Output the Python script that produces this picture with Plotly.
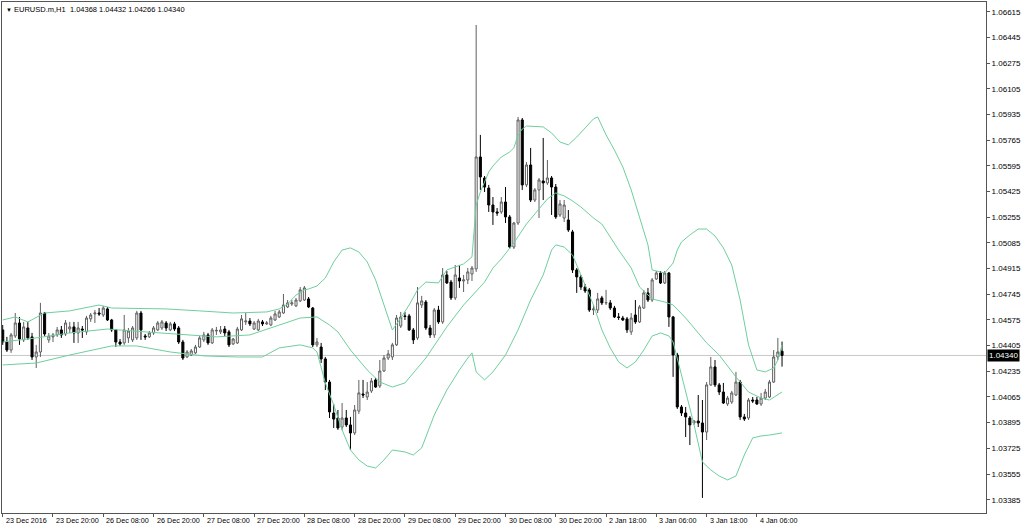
import plotly.graph_objects as go

# ---------------- data ----------------
bar_index = list(range(187))

opens = [1.04509,1.04429,1.04376,1.04469,1.04555,1.04443,1.04522,1.04463,1.04330,1.04363,
1.04621,1.04443,1.04463,1.04476,1.04509,1.04482,1.04515,1.04529,1.04489,1.04515,
1.04496,1.04582,1.04615,1.04621,1.04608,1.04648,1.04575,1.04509,1.04429,1.04423,
1.04456,1.04443,1.04456,1.04621,1.04469,1.04463,1.04489,1.04509,1.04522,1.04555,
1.04509,1.04549,1.04522,1.04429,1.04330,1.04343,1.04357,1.04396,1.04443,1.04476,
1.04423,1.04502,1.04496,1.04515,1.04496,1.04416,1.04423,1.04509,1.04562,1.04568,
1.04515,1.04509,1.04562,1.04549,1.04542,1.04575,1.04595,1.04621,1.04661,1.04681,
1.04668,1.04701,1.04707,1.04714,1.04654,1.04410,1.04396,1.04317,1.04164,1.03959,
1.03926,1.03866,1.03926,1.03880,1.03827,1.03972,1.04085,1.04065,1.04105,1.04178,
1.04138,1.04237,1.04323,1.04330,1.04410,1.04535,1.04602,1.04602,1.04509,1.04456,
1.04674,1.04694,1.04522,1.04476,1.04641,1.04562,1.04873,1.04826,1.04721,1.04853,
1.04833,1.04840,1.04879,1.04913,1.05654,1.05515,1.05448,1.05336,1.05290,1.05290,
1.05356,1.05257,1.05058,1.05217,1.05899,1.05469,1.05601,1.05369,1.05436,1.05495,
1.05482,1.05515,1.05455,1.05270,1.05250,1.05237,1.05158,1.04906,1.04860,1.04793,
1.04774,1.04641,1.04641,1.04721,1.04688,1.04688,1.04654,1.04595,1.04588,1.04582,
1.04496,1.04608,1.04562,1.04654,1.04754,1.04707,1.04846,1.04886,1.04820,1.04886,
1.04595,1.04343,1.03999,1.03959,1.03926,1.03893,1.03906,1.03893,1.03833,1.04145,
1.04264,1.04145,1.04098,1.04019,1.04032,1.04078,1.04164,1.03933,1.03926,1.04045,
1.04045,1.04019,1.04058,1.04065,1.04164,1.04330,1.04368]

highs = [1.04542,1.04463,1.04489,1.04621,1.04595,1.04562,1.04562,1.04489,1.04410,1.04688,
1.04628,1.04489,1.04489,1.04529,1.04535,1.04575,1.04562,1.04562,1.04562,1.04535,
1.04602,1.04621,1.04641,1.04654,1.04668,1.04661,1.04582,1.04515,1.04449,1.04608,
1.04522,1.04535,1.04635,1.04635,1.04482,1.04502,1.04535,1.04568,1.04575,1.04568,
1.04562,1.04562,1.04535,1.04443,1.04376,1.04383,1.04410,1.04469,1.04496,1.04489,
1.04522,1.04529,1.04535,1.04535,1.04509,1.04456,1.04529,1.04608,1.04621,1.04588,
1.04568,1.04582,1.04575,1.04568,1.04602,1.04635,1.04641,1.04747,1.04707,1.04707,
1.04721,1.04793,1.04800,1.04727,1.04661,1.04456,1.04423,1.04330,1.04178,1.04019,
1.03979,1.04025,1.03979,1.03933,1.04012,1.04178,1.04178,1.04164,1.04191,1.04191,
1.04310,1.04343,1.04376,1.04423,1.04608,1.04628,1.04628,1.04615,1.04522,1.04793,
1.04734,1.04707,1.04542,1.04654,1.04668,1.04919,1.04899,1.04840,1.04939,1.04939,
1.04873,1.04919,1.04932,1.06528,1.05800,1.05528,1.05469,1.05389,1.05316,1.05389,
1.05455,1.05270,1.05224,1.05919,1.05912,1.05621,1.05714,1.05448,1.05515,1.05780,
1.05634,1.05528,1.05475,1.05369,1.05369,1.05303,1.05171,1.04919,1.04873,1.04813,
1.04787,1.04674,1.04754,1.04734,1.04774,1.04707,1.04668,1.04621,1.04602,1.04595,
1.04621,1.04707,1.04674,1.04774,1.04787,1.04853,1.04899,1.04899,1.04899,1.04893,
1.04602,1.04357,1.04012,1.03999,1.03939,1.03913,1.04078,1.04045,1.04164,1.04330,
1.04310,1.04158,1.04158,1.04072,1.04105,1.04231,1.04178,1.03953,1.04058,1.04065,
1.04065,1.04092,1.04118,1.04178,1.04376,1.04456,1.04432]

lows = [1.04410,1.04363,1.04357,1.04456,1.04410,1.04429,1.04443,1.04310,1.04257,1.04330,
1.04469,1.04423,1.04429,1.04463,1.04456,1.04469,1.04489,1.04423,1.04423,1.04456,
1.04476,1.04562,1.04555,1.04602,1.04595,1.04568,1.04496,1.04396,1.04403,1.04410,
1.04423,1.04429,1.04443,1.04443,1.04443,1.04456,1.04476,1.04502,1.04509,1.04502,
1.04502,1.04502,1.04416,1.04310,1.04323,1.04337,1.04350,1.04390,1.04429,1.04410,
1.04416,1.04476,1.04482,1.04469,1.04396,1.04410,1.04416,1.04502,1.04542,1.04535,
1.04509,1.04502,1.04535,1.04542,1.04535,1.04568,1.04588,1.04615,1.04654,1.04668,
1.04661,1.04694,1.04701,1.04654,1.04396,1.04396,1.04290,1.04111,1.03926,1.03860,
1.03847,1.03847,1.03866,1.03714,1.03813,1.03953,1.04058,1.04045,1.04092,1.04125,
1.04125,1.04231,1.04310,1.04310,1.04403,1.04522,1.04575,1.04502,1.04416,1.04443,
1.04654,1.04509,1.04456,1.04456,1.04549,1.04549,1.04813,1.04707,1.04707,1.04787,
1.04760,1.04813,1.04833,1.04893,1.05436,1.05422,1.05290,1.05204,1.05264,1.05277,
1.05217,1.05045,1.05045,1.05204,1.05436,1.05455,1.05356,1.05356,1.05250,1.05369,
1.05469,1.05270,1.05244,1.05257,1.05224,1.05158,1.04886,1.04754,1.04774,1.04754,
1.04628,1.04608,1.04621,1.04674,1.04674,1.04641,1.04588,1.04575,1.04568,1.04489,
1.04476,1.04549,1.04555,1.04648,1.04694,1.04694,1.04840,1.04813,1.04813,1.04529,
1.04198,1.03986,1.03939,1.03800,1.03747,1.03880,1.03866,1.03397,1.03780,1.04138,
1.04131,1.04078,1.04019,1.04006,1.04019,1.04072,1.03913,1.03906,1.03913,1.04025,
1.04012,1.04006,1.04045,1.04058,1.04158,1.04310,1.04266]

closes = [1.04429,1.04376,1.04476,1.04555,1.04449,1.04529,1.04456,1.04330,1.04363,1.04621,
1.04482,1.04469,1.04476,1.04509,1.04476,1.04555,1.04529,1.04489,1.04522,1.04509,
1.04588,1.04608,1.04621,1.04615,1.04654,1.04575,1.04509,1.04429,1.04416,1.04509,
1.04502,1.04522,1.04621,1.04509,1.04463,1.04489,1.04522,1.04555,1.04562,1.04522,
1.04549,1.04515,1.04429,1.04323,1.04363,1.04370,1.04396,1.04456,1.04476,1.04423,
1.04509,1.04506,1.04509,1.04489,1.04410,1.04449,1.04515,1.04582,1.04568,1.04549,
1.04555,1.04568,1.04549,1.04555,1.04588,1.04615,1.04628,1.04674,1.04688,1.04688,
1.04707,1.04774,1.04787,1.04661,1.04410,1.04429,1.04317,1.04164,1.03966,1.03919,
1.03860,1.03926,1.03880,1.03827,1.03979,1.04092,1.04078,1.04098,1.04171,1.04131,
1.04237,1.04323,1.04350,1.04410,1.04588,1.04595,1.04598,1.04509,1.04443,1.04688,
1.04701,1.04522,1.04476,1.04641,1.04562,1.04873,1.04820,1.04721,1.04873,1.04833,
1.04840,1.04893,1.04919,1.05654,1.05522,1.05455,1.05336,1.05290,1.05283,1.05356,
1.05257,1.05058,1.05217,1.05899,1.05469,1.05601,1.05369,1.05436,1.05502,1.05482,
1.05515,1.05455,1.05257,1.05343,1.05336,1.05171,1.04906,1.04860,1.04793,1.04767,
1.04641,1.04648,1.04714,1.04688,1.04690,1.04654,1.04595,1.04592,1.04575,1.04509,
1.04588,1.04562,1.04661,1.04754,1.04707,1.04840,1.04886,1.04820,1.04886,1.04595,
1.04343,1.03999,1.03959,1.03933,1.03880,1.03906,1.03893,1.03833,1.04145,1.04264,
1.04145,1.04098,1.04025,1.04058,1.04092,1.04164,1.03933,1.03919,1.04045,1.04039,
1.04019,1.04058,1.04098,1.04164,1.04330,1.04363,1.04340]

bb_up_bar = [0,3,6,10,16,23,26,39,47,55,63,66,68,70,72,73,75,77,79,81,83,85,87,89,91,93,95,97,99,101,
             104,106,110,112,113,114,115,116,117,119,121,122,123,124,125,129,131,133,135,137,139,141,
             142,144,146,148,150,152,154,155,158,160,161,162,164,166,168,170,172,174,176,178,180,182,
             184,185,186]
bb_up = [1.04575,1.04595,1.04562,1.04621,1.04635,1.04674,1.04654,1.04648,1.04635,1.04621,1.04628,
         1.04648,1.04681,1.04740,1.04774,1.04780,1.04800,1.04853,1.04959,1.05038,1.05052,1.05025,
         1.04959,1.04840,1.04674,1.04509,1.04588,1.04674,1.04774,1.04826,1.04820,1.04906,1.04946,
         1.04992,1.05336,1.05422,1.05488,1.05555,1.05594,1.05654,1.05687,1.05714,1.05800,1.05839,
         1.05859,1.05853,1.05813,1.05753,1.05734,1.05786,1.05846,1.05906,1.05919,1.05800,1.05700,
         1.05588,1.05436,1.05257,1.05072,1.04906,1.04886,1.04952,1.05038,1.05091,1.05138,1.05177,
         1.05177,1.05131,1.05052,1.04939,1.04707,1.04410,1.04244,1.04231,1.04257,1.04310,1.04410]

bb_mid_bar = [0,8,16,25,31,43,51,59,64,71,75,78,80,83,87,90,93,96,101,106,110,112,113,115,117,119,
              122,125,128,130,132,134,136,138,141,143,147,150,152,155,158,160,163,166,168,171,175,178,
              181,183,186]
bb_mid = [1.04429,1.04456,1.04489,1.04515,1.04502,1.04476,1.04463,1.04476,1.04522,1.04588,1.04595,
          1.04542,1.04496,1.04376,1.04244,1.04164,1.04131,1.04158,1.04323,1.04529,1.04674,1.04734,
          1.04767,1.04826,1.04919,1.04979,1.05085,1.05210,1.05310,1.05376,1.05416,1.05396,1.05363,
          1.05323,1.05250,1.05210,1.05038,1.04919,1.04793,1.04714,1.04694,1.04674,1.04588,1.04489,
          1.04423,1.04343,1.04198,1.04098,1.04058,1.04045,1.04098]

bb_low_bar = [0,8,16,26,32,40,48,56,62,66,71,74,75,76,77,79,81,83,85,87,89,91,93,96,98,100,103,106,
              109,111,112,113,115,117,120,123,126,129,131,132,134,136,138,141,143,145,147,149,151,153,
              155,157,159,160,162,165,167,169,171,173,175,177,179,181,183,186]
bb_low = [1.04277,1.04290,1.04343,1.04403,1.04403,1.04363,1.04337,1.04330,1.04330,1.04390,1.04410,
          1.04390,1.04363,1.04257,1.04158,1.04012,1.03847,1.03714,1.03648,1.03608,1.03595,1.03648,
          1.03714,1.03701,1.03681,1.03728,1.03946,1.04111,1.04244,1.04323,1.04357,1.04231,1.04178,
          1.04231,1.04343,1.04509,1.04707,1.04873,1.05038,1.05072,1.05058,1.05005,1.04873,1.04674,
          1.04509,1.04390,1.04297,1.04257,1.04297,1.04376,1.04469,1.04489,1.04469,1.04429,1.04211,
          1.03880,1.03635,1.03582,1.03542,1.03516,1.03542,1.03681,1.03794,1.03807,1.03813,1.03827]

time_tick_bars = [0,12,24,36,48,60,72,84,96,108,120,132,144,156,168,180]
time_tick_labels = ["23 Dec 2016","23 Dec 20:00","26 Dec 08:00","26 Dec 20:00","27 Dec 08:00",
                    "27 Dec 20:00","28 Dec 08:00","28 Dec 20:00","29 Dec 08:00","29 Dec 20:00",
                    "30 Dec 08:00","30 Dec 20:00","2 Jan 18:00","3 Jan 06:00","3 Jan 18:00",
                    "4 Jan 06:00"]

price_tick_labels = ["1.03385","1.03555","1.03725","1.03895","1.04065","1.04235","1.04405",
                     "1.04575","1.04745","1.04915","1.05085","1.05255","1.05425","1.05595",
                     "1.05765","1.05935","1.06105","1.06275","1.06445","1.06615"]

symbol = "EURUSD.m,H1"

# ---------------- figure ----------------
FONT = "Liberation Sans, Arial, sans-serif"
BAND = "#6fcf9c"
AX = "#555555"

fig = go.Figure()
for xs, ys in ((bb_up_bar, bb_up), (bb_mid_bar, bb_mid), (bb_low_bar, bb_low)):
    fig.add_trace(go.Scatter(x=xs, y=ys, mode="lines", line=dict(color=BAND, width=1),
                             hoverinfo="skip", showlegend=False))

fig.add_trace(go.Candlestick(
    x=bar_index, open=opens, high=highs, low=lows, close=closes,
    increasing=dict(line=dict(color="#5f5f5f", width=1), fillcolor="#ffffff"),
    decreasing=dict(line=dict(color="#000000", width=1), fillcolor="#000000"),
    whiskerwidth=0, showlegend=False, hoverinfo="skip"))

last = closes[-1]
fig.add_shape(type="line", xref="paper", x0=0, x1=1, yref="y", y0=last, y1=last,
              line=dict(color="#c8c8c8", width=1), layer="below")

annotations = []
for b, t in zip(time_tick_bars, time_tick_labels):
    annotations.append(dict(x=b, xref="x", y=0, yref="paper", text=t, showarrow=False,
                            xanchor="left", yanchor="top", xshift=1, yshift=-1,
                            font=dict(family=FONT, size=7.2, color="#000000")))
annotations.append(dict(x=1, xref="paper", y=last, yref="y", text=f"{last:.5f}", showarrow=False,
                        xanchor="left", yanchor="middle", xshift=1, bgcolor="#000000",
                        borderpad=1, font=dict(family=FONT, size=8, color="#ffffff")))
title = ("<span style='font-size:6px'>▼</span> " + symbol + "\u00a0\u00a0" +
         " ".join(f"{v:.5f}" for v in (opens[-1], highs[-1], lows[-1], closes[-1])))
annotations.append(dict(x=0, xref="paper", y=1, yref="paper", text=title, showarrow=False,
                        xanchor="left", yanchor="top", xshift=2, yshift=-1,
                        font=dict(family=FONT, size=7.5, color="#000000")))

fig.update_layout(
    width=1024, height=525,
    margin=dict(l=2, r=38, t=2, b=12, pad=0),
    paper_bgcolor="white", plot_bgcolor="white",
    showlegend=False,
    font=dict(family=FONT, size=8, color="#000000"),
    annotations=annotations,
    xaxis=dict(range=[-0.17, 234.68], showgrid=False, zeroline=False, showline=True,
               linecolor=AX, linewidth=1, mirror=True, ticks="outside", ticklen=3,
               tickcolor=AX, tickvals=time_tick_bars, showticklabels=False,
               rangeslider=dict(visible=False), automargin=False),
    yaxis=dict(range=[1.03297, 1.06680], side="right", showgrid=False, zeroline=False,
               showline=True, linecolor=AX, linewidth=1, mirror=True, ticks="outside",
               ticklen=3, tickcolor=AX, tickvals=[float(v) for v in price_tick_labels],
               ticktext=price_tick_labels, tickfont=dict(family=FONT, size=8, color="#000000"),
               automargin=False),
)

fig.write_html("out.html", config={"displayModeBar": False},
               post_script="document.body.style.margin='0';document.body.style.overflow='hidden';")
